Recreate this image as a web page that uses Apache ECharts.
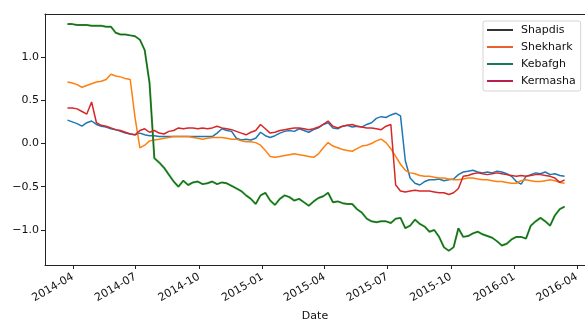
<!DOCTYPE html>
<html>
<head>
<meta charset="utf-8">
<script src="https://cdn.jsdelivr.net/npm/echarts@6/dist/echarts.min.js"></script>
<style>
  html, body { margin: 0; padding: 0; background: #fff; }
  #chart { width: 585px; height: 320px; }
</style>
</head>
<body>
<div id="chart"></div>
<script>
// Weekly observations, starting Monday 2014-03-24
const DAY = 86400000;
const startDate = Date.UTC(2014, 2, 24);
const weekCount = 104;

const seriesNames = ['Shapdis', 'Shekhark', 'Kebafgh', 'Kermasha'];

const shapdis = [
  0.27, 0.25, 0.23, 0.20, 0.24, 0.26, 0.22, 0.20, 0.19, 0.17,
  0.16, 0.14, 0.12, 0.11, 0.10, 0.12, 0.10, 0.09, 0.09, 0.08,
  0.08, 0.08, 0.08, 0.08, 0.08, 0.08, 0.08, 0.08, 0.08, 0.08,
  0.08, 0.12, 0.17, 0.15, 0.14, 0.06, 0.04, 0.05, 0.04, 0.06,
  0.13, 0.09, 0.07, 0.09, 0.12, 0.14, 0.15, 0.14, 0.17, 0.15,
  0.13, 0.16, 0.18, 0.22, 0.24, 0.18, 0.17, 0.20, 0.21, 0.19,
  0.20, 0.19, 0.22, 0.24, 0.29, 0.31, 0.30, 0.33, 0.35, 0.32,
  -0.20, -0.40, -0.46, -0.48, -0.44, -0.42, -0.42, -0.41, -0.43, -0.42,
  -0.41, -0.36, -0.33, -0.32, -0.31, -0.33, -0.34, -0.33, -0.34, -0.32,
  -0.33, -0.35, -0.38, -0.44, -0.47, -0.38, -0.36, -0.34, -0.35, -0.33,
  -0.36, -0.35, -0.37, -0.38
];

const shekhark = [
  0.71, 0.70, 0.68, 0.65, 0.67, 0.69, 0.71, 0.72, 0.74, 0.80,
  0.78, 0.77, 0.75, 0.74, 0.30, -0.05, -0.02, 0.03, 0.04, 0.05,
  0.06, 0.07, 0.08, 0.08, 0.08, 0.08, 0.07, 0.06, 0.05, 0.06,
  0.07, 0.07, 0.07, 0.06, 0.05, 0.05, 0.03, 0.02, 0.02, 0.01,
  -0.02, -0.08, -0.15, -0.16, -0.15, -0.14, -0.13, -0.12, -0.13, -0.14,
  -0.15, -0.16, -0.12, -0.05, 0.01, -0.03, -0.05, -0.07, -0.08, -0.09,
  -0.06, -0.03, -0.02, 0.00, 0.03, 0.05, 0.01, -0.06, -0.15, -0.24,
  -0.31, -0.34, -0.35, -0.37, -0.38, -0.38, -0.39, -0.40, -0.40, -0.41,
  -0.42, -0.42, -0.41, -0.40, -0.40, -0.41, -0.42, -0.42, -0.43, -0.44,
  -0.44, -0.45, -0.46, -0.46, -0.43, -0.42, -0.43, -0.44, -0.44, -0.43,
  -0.42, -0.43, -0.45, -0.46
];

const kebafgh = [
  1.38, 1.38, 1.37, 1.37, 1.37, 1.36, 1.36, 1.36, 1.35, 1.35,
  1.28, 1.26, 1.26, 1.25, 1.24, 1.20, 1.08, 0.70, -0.17, -0.22,
  -0.28, -0.36, -0.44, -0.50, -0.43, -0.48, -0.45, -0.44, -0.47, -0.46,
  -0.44, -0.47, -0.45, -0.46, -0.49, -0.52, -0.55, -0.60, -0.64, -0.70,
  -0.60, -0.57, -0.66, -0.71, -0.64, -0.60, -0.62, -0.66, -0.64, -0.68,
  -0.72, -0.67, -0.63, -0.61, -0.57, -0.68, -0.67, -0.69, -0.70, -0.70,
  -0.76, -0.80, -0.87, -0.90, -0.91, -0.90, -0.90, -0.92, -0.87, -0.86,
  -0.98, -0.95, -0.88, -0.93, -0.96, -1.02, -1.00, -1.08, -1.20, -1.24,
  -1.20, -0.98, -1.08, -1.07, -1.04, -1.02, -1.05, -1.07, -1.09, -1.13,
  -1.18, -1.16, -1.11, -1.08, -1.08, -1.10, -0.95, -0.90, -0.86, -0.90,
  -0.95, -0.83, -0.76, -0.73
];

const kermasha = [
  0.41, 0.41, 0.40, 0.37, 0.34, 0.48, 0.24, 0.21, 0.20, 0.18,
  0.16, 0.15, 0.13, 0.11, 0.10, 0.15, 0.17, 0.13, 0.15, 0.12,
  0.11, 0.14, 0.15, 0.18, 0.17, 0.18, 0.18, 0.17, 0.18, 0.17,
  0.18, 0.20, 0.18, 0.17, 0.16, 0.14, 0.12, 0.10, 0.13, 0.15,
  0.22, 0.17, 0.12, 0.13, 0.15, 0.16, 0.17, 0.18, 0.18, 0.17,
  0.16, 0.17, 0.19, 0.22, 0.26, 0.20, 0.18, 0.20, 0.21, 0.22,
  0.20, 0.19, 0.18, 0.18, 0.17, 0.16, 0.20, 0.22, -0.48, -0.55,
  -0.56, -0.55, -0.54, -0.55, -0.55, -0.55, -0.56, -0.57, -0.57, -0.59,
  -0.57, -0.52, -0.38, -0.37, -0.35, -0.34, -0.35, -0.36, -0.35, -0.34,
  -0.35, -0.36, -0.37, -0.38, -0.37, -0.38, -0.37, -0.36, -0.36, -0.37,
  -0.38, -0.40, -0.45, -0.42
];

// Axis ticks
const yTicks = [-1.0, -0.5, 0.0, 0.5, 1.0];
const xTickLabels = ['2014-04', '2014-07', '2014-10', '2015-01', '2015-04',
                     '2015-07', '2015-10', '2016-01', '2016-04'];

const dates = [];
for (let i = 0; i < weekCount; i++) dates.push(startDate + i * 7 * DAY);

const toTime = s => Date.UTC(+s.slice(0, 4), +s.slice(5, 7) - 1, 1);
const xTickValues = xTickLabels.map(toTime);

const pairs = vals => vals.map((v, i) => [dates[i], v]);

// Visible date window of the plot
const xMin = toTime('2014-04') - 40.6 * DAY;
const xMax = toTime('2016-04') + 11.6 * DAY;

const FONT = 'DejaVu Sans';
const minus = s => s.replace('-', '\u2212');

const chart = echarts.init(document.getElementById('chart'), null, { renderer: 'canvas' });

const lineSeries = (name, vals, color, width, z) => ({
  name, type: 'line', data: pairs(vals), showSymbol: false, symbol: 'none',
  lineStyle: { color, width }, itemStyle: { color }, z, silent: true
});

chart.setOption({
  animation: false,
  backgroundColor: '#ffffff',
  grid: { left: 45, right: 0, top: 14, bottom: 55, containLabel: false, outerBoundsMode: 'none' },
  legend: {
    orient: 'vertical',
    left: 483, top: 21,
    padding: [3, 5, 4, 4],
    itemGap: 5,
    itemWidth: 26, itemHeight: 2,
    icon: 'rect',
    backgroundColor: '#ffffff',
    borderColor: '#d4d4d4', borderWidth: 1, borderRadius: 2,
    textStyle: { fontFamily: FONT, fontSize: 11, color: '#111', lineHeight: 12, padding: [0, 0, 0, 3] },
    data: [
      { name: 'Shapdis', itemStyle: { color: '#333333' } },
      { name: 'Shekhark', itemStyle: { color: '#e8602c' } },
      { name: 'Kebafgh', itemStyle: { color: '#17785e' } },
      { name: 'Kermasha', itemStyle: { color: '#b5204c' } }
    ]
  },
  xAxis: [{
    type: 'value', min: xMin, max: xMax,
    name: 'Date', nameLocation: 'middle', nameGap: 46,
    nameTextStyle: { fontFamily: FONT, fontSize: 11, color: '#111' },
    axisLine: { show: true, onZero: false, lineStyle: { color: '#222', width: 1 } },
    axisTick: { show: true, length: 4, lineStyle: { color: '#222' }, customValues: xTickValues },
    axisLabel: {
      customValues: xTickValues, rotate: 30, margin: 11,
      fontFamily: FONT, fontSize: 11, color: '#111',
      formatter: v => xTickLabels[xTickValues.indexOf(v)] || ''
    },
    splitLine: { show: false }
  }, {
    type: 'value', position: 'top', min: 0, max: 1,
    axisLine: { show: true, onZero: false, lineStyle: { color: '#222', width: 1 } },
    axisTick: { show: false }, axisLabel: { show: false }, splitLine: { show: false }
  }],
  yAxis: {
    type: 'value', min: -1.405, max: 1.497,
    axisLine: { show: true, onZero: false, lineStyle: { color: '#222', width: 1 } },
    axisTick: { show: true, length: 4, lineStyle: { color: '#222' }, customValues: yTicks },
    axisLabel: {
      customValues: yTicks, margin: 6,
      fontFamily: FONT, fontSize: 11, color: '#111',
      formatter: v => minus(v.toFixed(1))
    },
    splitLine: { show: false }
  },
  series: [
    lineSeries('Shapdis', shapdis, '#1f77b4', 1.5, 2),
    lineSeries('Shekhark', shekhark, '#ff7f0e', 1.5, 3),
    lineSeries('Kebafgh', kebafgh, '#2ca02c', 2, 4),
    // dark core drawn over the green trace
    lineSeries('Kebafgh', kebafgh, '#1d3d22', 0.7, 5),
    lineSeries('Kermasha', kermasha, '#d62728', 1.5, 6)
  ]
});
</script>
</body>
</html>
